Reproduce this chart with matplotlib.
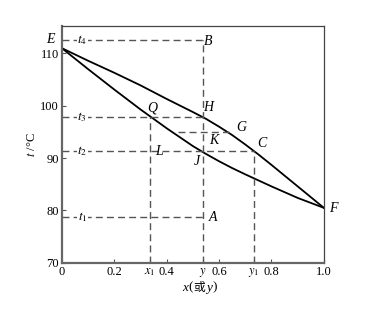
import numpy as np
import matplotlib.pyplot as plt
from matplotlib.offsetbox import TextArea, HPacker, AnchoredOffsetbox

plt.rcParams['font.family'] = ['Liberation Serif', 'Noto Sans CJK SC', 'DejaVu Sans']
plt.rcParams['mathtext.fontset'] = 'stix'

# 液相线 (泡点线) 与 气相线 (露点线)
x_liq = [0, 0.1, 0.2, 0.3, 0.4, 0.5, 0.55, 0.6, 0.65, 0.7, 0.8, 0.9, 1.0]
t_liq = [111.0, 107.0, 103.1, 99.3, 95.7, 92.3, 90.8, 89.4, 88.1, 86.9, 84.6, 82.4, 80.5]
y_vap = [0, 0.1, 0.2, 0.3, 0.4, 0.5, 0.55, 0.6, 0.65, 0.7, 0.75, 0.8, 0.9, 1.0]
t_vap = [111.0, 108.6, 106.3, 103.9, 101.3, 98.8, 97.5, 96.0, 94.4, 92.6, 90.7, 88.7, 84.6, 80.5]

# 特征温度与组成
t1, t2, t3, t4, tK = 78.7, 91.3, 97.9, 112.5, 94.9
x1, yy, y1, xG = 0.337, 0.537, 0.733, 0.645

fig = plt.figure(figsize=(3.66, 3.19), dpi=100)
ax = fig.add_axes([0.169, 0.176, 0.716, 0.742])

ax.plot(x_liq, t_liq, color='black', lw=1.3)
ax.plot(y_vap, t_vap, color='black', lw=1.3)

dk = dict(color='#555555', lw=1.0, ls=(0, (5, 3)))
ax.plot([0, yy], [t4, t4], **dk)
ax.plot([yy, yy], [70, t4], **dk)
ax.plot([0, yy], [t3, t3], **dk)
ax.plot([0, y1], [t2, t2], **dk)
ax.plot([y1, y1], [70, t2], **dk)
ax.plot([0, yy], [t1, t1], **dk)
ax.plot([x1, x1], [70, t3], **dk)
ax.plot([0.443, xG], [tK, tK], **dk)

bb = dict(facecolor='white', edgecolor='none', pad=0.5)
for lab, tv in [('$t_4$', t4), ('$t_3$', t3), ('$t_2$', t2), ('$t_1$', t1)]:
    ax.text(0.078, tv, lab, fontsize=9.5, ha='center', va='center', bbox=bb)

pts = [('E', -0.045, 112.6), ('B', 0.557, 112.2), ('H', 0.557, 99.6),
       ('Q', 0.345, 99.5), ('G', 0.685, 95.9), ('K', 0.58, 93.3),
       ('L', 0.37, 91.2), ('J', 0.515, 89.4), ('C', 0.765, 92.7),
       ('A', 0.575, 78.6), ('F', 1.035, 80.3)]
for lab, px, pt in pts:
    ax.text(px, pt, lab, fontsize=10, style='italic', ha='center', va='center')

ax.set_xlim(0, 1.0)
ax.set_ylim(70, 115.2)
xt = [0, 0.2, x1, 0.4, yy, 0.6, y1, 0.8, 1.0]
xtl = ['0', '0.2', '$x_1$', '0.4', '$y$', '0.6', '$y_1$', '0.8', '1.0']
ax.set_xticks(xt)
ax.set_xticklabels(xtl)
ax.set_yticks([70, 80, 90, 100, 110])
ax.tick_params(direction='in', length=3, labelsize=9, pad=2, color='#555555')
ax.set_ylabel('$t$ /°C', fontsize=9, labelpad=2)

# x(或y) 轴标题: 拼接斜体字母与中文
parts = [TextArea('x', textprops=dict(fontsize=9.5, style='italic')),
         TextArea('(', textprops=dict(fontsize=9.5)),
         TextArea('或', textprops=dict(fontsize=8.5, family='Noto Sans CJK SC')),
         TextArea('y', textprops=dict(fontsize=9.5, style='italic')),
         TextArea(')', textprops=dict(fontsize=9.5))]
box = HPacker(children=parts, align='baseline', pad=0, sep=0.5)
ab = AnchoredOffsetbox(loc='upper center', child=box, frameon=False, pad=0,
                       bbox_to_anchor=(0.525, -0.075), bbox_transform=ax.transAxes,
                       borderpad=0)
ax.add_artist(ab)

for s in ['left', 'bottom']:
    ax.spines[s].set_linewidth(1.6)
    ax.spines[s].set_color('#666666')
for s in ['top', 'right']:
    ax.spines[s].set_linewidth(0.9)
    ax.spines[s].set_color('#444444')

fig.savefig('out.png', dpi=100)
